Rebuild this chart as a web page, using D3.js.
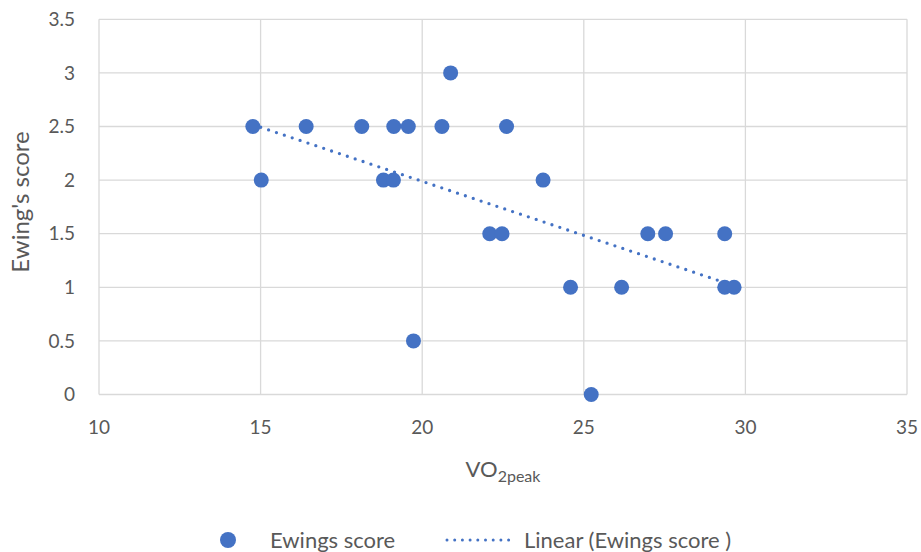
<!DOCTYPE html>
<html><head><meta charset="utf-8">
<script src="https://cdn.jsdelivr.net/npm/d3@7/dist/d3.min.js"></script>
<style>body{margin:0;background:#fff}svg{display:block}text{font-family:Lato,"Open Sans",sans-serif;fill:#595959}</style>
</head><body>
<script>
const vo2peak = [14.76,15.02,16.41,18.13,18.80,19.11,19.12,19.57,19.73,20.61,20.88,22.09,22.47,22.61,23.74,24.59,25.23,26.17,26.98,27.53,29.36,29.36,29.65];
const ewingScore = [2.5,2,2.5,2.5,2,2,2.5,2.5,0.5,2.5,3,1.5,1.5,2.5,2,1,0,1,1.5,1.5,1.5,1,1];
const xTicks = [10,15,20,25,30,35];
const yTicks = [0,0.5,1,1.5,2,2.5,3,3.5];
const seriesName = "Ewings score";
const trendName = "Linear (Ewings score )";

const W=921,H=552, L=99, R=907, T=19.3, B=394.5;
const color="#4472C4";
const svg=d3.select("body").append("svg").attr("width",W).attr("height",H);
const x=d3.scaleLinear().domain([10,35]).range([L,R]);
const y=d3.scaleLinear().domain([0,3.5]).range([B,T]);

// gridlines
svg.append("g").selectAll("line").data(xTicks).join("line")
  .attr("x1",d=>x(d)).attr("x2",d=>x(d)).attr("y1",T).attr("y2",B)
  .attr("stroke","#d9d9d9").attr("stroke-width",1.3);
svg.append("g").selectAll("line").data(yTicks).join("line")
  .attr("x1",L).attr("x2",R).attr("y1",d=>y(d)).attr("y2",d=>y(d))
  .attr("stroke","#d9d9d9").attr("stroke-width",1.3);

// tick labels
svg.append("g").selectAll("text").data(yTicks).join("text")
  .attr("x",75).attr("y",d=>y(d)).attr("dy","0.35em").attr("text-anchor","end")
  .attr("font-size",19).text(d=>d);
svg.append("g").selectAll("text").data(xTicks).join("text")
  .attr("x",d=>x(d)).attr("y",427).attr("dy","0.35em").attr("text-anchor","middle")
  .attr("font-size",19).text(d=>d);

// axis titles
const xt=svg.append("text").attr("x",503).attr("y",477).attr("text-anchor","middle").attr("font-size",22);
xt.append("tspan").text("VO");
xt.append("tspan").attr("font-size",16).attr("dy",5).text("2peak");
svg.append("text").attr("transform","translate(29,202) rotate(-90)").attr("text-anchor","middle")
  .attr("font-size",24).text("Ewing's score");

// trend line (least squares)
const n=vo2peak.length, mx=d3.mean(vo2peak), my=d3.mean(ewingScore);
let sxy=0,sxx=0; for(let i=0;i<n;i++){sxy+=(vo2peak[i]-mx)*(ewingScore[i]-my);sxx+=(vo2peak[i]-mx)**2;}
const slope=sxy/sxx, icpt=my-slope*mx;
const x0=d3.min(vo2peak), x1=d3.max(vo2peak);
svg.append("line").attr("x1",x(x0)).attr("y1",y(icpt+slope*x0)).attr("x2",x(x1)).attr("y2",y(icpt+slope*x1))
  .attr("stroke",color).attr("stroke-width",3.3).attr("stroke-linecap","round").attr("stroke-dasharray","0 8.3");

// points
svg.append("g").selectAll("circle").data(vo2peak.map((v,i)=>[v,ewingScore[i]])).join("circle")
  .attr("cx",d=>x(d[0])).attr("cy",d=>y(d[1])).attr("r",7.5).attr("fill",color);

// legend
const ly=540;
svg.append("circle").attr("cx",228).attr("cy",ly).attr("r",8).attr("fill",color);
svg.append("text").attr("x",270).attr("y",ly).attr("dy","0.35em").attr("font-size",22).text(seriesName);
svg.append("line").attr("x1",447).attr("x2",509).attr("y1",ly).attr("y2",ly)
  .attr("stroke",color).attr("stroke-width",3).attr("stroke-linecap","round").attr("stroke-dasharray","0 7.7");
svg.append("text").attr("x",524).attr("y",ly).attr("dy","0.35em").attr("font-size",22).text(trendName);
</script>
</body></html>
